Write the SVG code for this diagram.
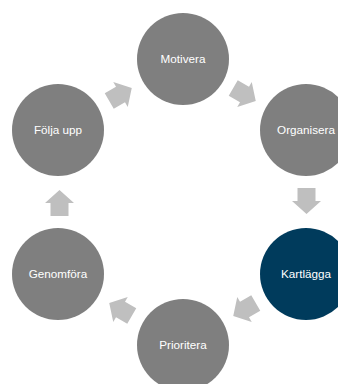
<svg xmlns="http://www.w3.org/2000/svg" width="338" height="384" viewBox="0 0 338 384">
<defs>
<style>
.n{fill:#7f7f7f}
.k{fill:#003b5c}
.t{fill:#ffffff;font-family:"Liberation Sans",Arial,sans-serif;font-size:11.7px;text-anchor:middle}
.a{fill:#bfbfbf}
</style>
<path id="arr" d="M-13,-9 H0 V-14.5 L13,0 L0,14.5 V9 H-13 Z"/>
</defs>
<rect width="338" height="384" fill="#ffffff"/>
<g id="connectors">
<use href="#arr" class="a" transform="translate(244.5,94.5) rotate(30)"/>
<use href="#arr" class="a" transform="translate(306.5,201) rotate(90)"/>
<use href="#arr" class="a" transform="translate(244.5,309.5) rotate(150)"/>
<use href="#arr" class="a" transform="translate(120.5,309.5) rotate(210)"/>
<use href="#arr" class="a" transform="translate(59.5,203) rotate(270)"/>
<use href="#arr" class="a" transform="translate(120.5,94.5) rotate(330)"/>
</g>
<g id="motivera"><circle class="n" cx="183" cy="59" r="46"/><text class="t" x="183" y="63">Motivera</text></g>
<g id="organisera"><circle class="n" cx="306" cy="130" r="46"/><text class="t" x="306" y="134">Organisera</text></g>
<g id="kartlagga"><circle class="k" cx="306" cy="274" r="46"/><text class="t" x="306" y="278">Kartlägga</text></g>
<g id="prioritera"><circle class="n" cx="183" cy="345" r="46"/><text class="t" x="183" y="349">Prioritera</text></g>
<g id="genomfora"><circle class="n" cx="58" cy="274" r="46"/><text class="t" x="58" y="278">Genomföra</text></g>
<g id="folja-upp"><circle class="n" cx="58" cy="130" r="46"/><text class="t" x="58" y="134">Följa upp</text></g>
</svg>
